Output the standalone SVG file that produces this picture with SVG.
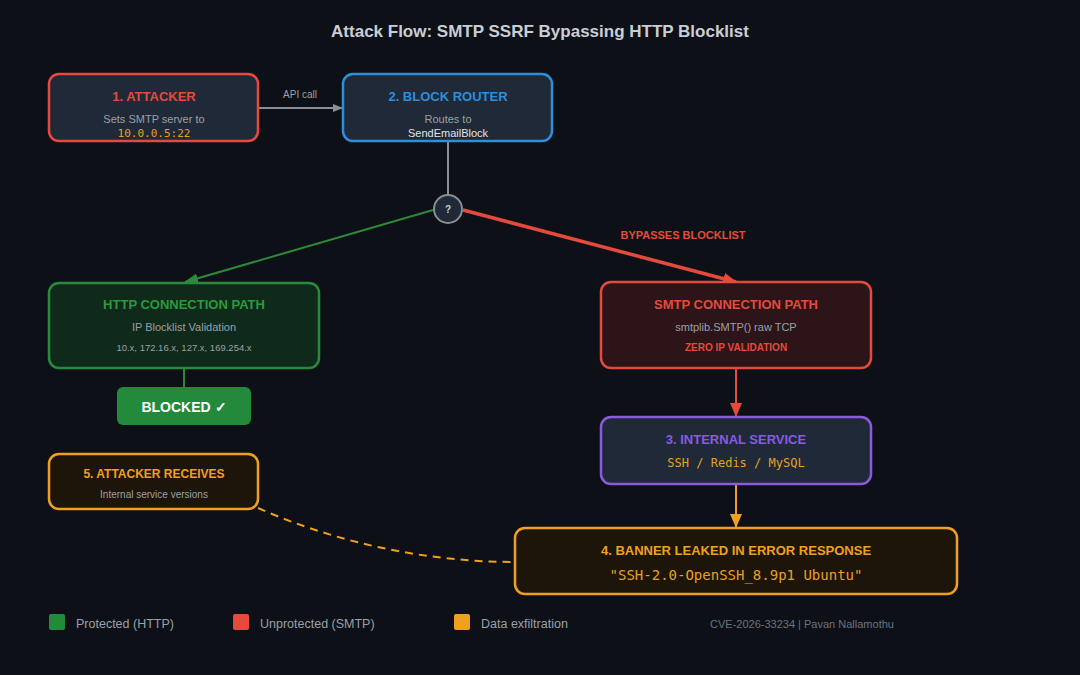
<svg xmlns="http://www.w3.org/2000/svg" width="1080" height="675" viewBox="0 0 1080 675">
<style>
.b{font-family:"Liberation Sans",Arial,sans-serif;font-weight:bold;text-anchor:middle}
.t{font-family:"Liberation Sans",Arial,sans-serif;text-anchor:middle;fill:#9aa0a8}
.m{font-family:"DejaVu Sans Mono",monospace;text-anchor:middle;fill:#e8a020}
.box{stroke-width:2.5}
</style>
<defs>
<marker id="ag" markerWidth="10" markerHeight="8" refX="9" refY="4" orient="auto" markerUnits="userSpaceOnUse"><path d="M0,0L10,4L0,8z" fill="#8a8f96"/></marker>
<marker id="agr" markerWidth="14" markerHeight="10" refX="13" refY="5" orient="auto" markerUnits="userSpaceOnUse"><path d="M0,0L14,5L0,10z" fill="#2a8a3a"/></marker>
<marker id="ar" markerWidth="14" markerHeight="12" refX="13" refY="6" orient="auto" markerUnits="userSpaceOnUse"><path d="M0,0L14,6L0,12z" fill="#e64a3c"/></marker>
<marker id="ao" markerWidth="14" markerHeight="12" refX="13" refY="6" orient="auto" markerUnits="userSpaceOnUse"><path d="M0,0L14,6L0,12z" fill="#f0a020"/></marker>
</defs>
<rect width="1080" height="675" fill="#0d1117"/>
<text x="540" y="37" class="b" font-size="17" fill="#c9ced6">Attack Flow: SMTP SSRF Bypassing HTTP Blocklist</text>
<g id="connectors" fill="none">
<line x1="258" y1="108" x2="342" y2="108" stroke="#8a8f96" stroke-width="2" marker-end="url(#ag)"/>
<text x="300" y="98" class="t" font-size="10" stroke="none">API call</text>
<line x1="448" y1="141" x2="448" y2="195" stroke="#8a8f96" stroke-width="2"/>
<line x1="433" y1="210" x2="185" y2="282" stroke="#2a8a3a" stroke-width="2" marker-end="url(#agr)"/>
<line x1="463" y1="210" x2="736" y2="282" stroke="#e64a3c" stroke-width="3.5" marker-end="url(#ar)"/>
<text x="683" y="239" class="b" font-size="11" fill="#e64a3c" stroke="none">BYPASSES BLOCKLIST</text>
<line x1="184" y1="368" x2="184" y2="387" stroke="#2a8a3a" stroke-width="2"/>
<line x1="736" y1="368" x2="736" y2="416" stroke="#e64a3c" stroke-width="2" marker-end="url(#ar)"/>
<line x1="736" y1="484" x2="736" y2="527" stroke="#f0a020" stroke-width="2" marker-end="url(#ao)"/>
<path d="M258,508 C330,540 420,562 515,562" stroke="#f0a020" stroke-width="2" stroke-dasharray="8,6"/>
</g>
<g id="n1"><rect x="49" y="74" width="209" height="67" rx="10" fill="#1f2937" stroke="#e64a3c" class="box"/>
<text x="154" y="101" class="b" font-size="13" fill="#e64a3c">1. ATTACKER</text>
<text x="154" y="123" class="t" font-size="11">Sets SMTP server to</text>
<text x="154" y="137" class="m" font-size="11">10.0.0.5:22</text></g>
<g id="n2"><rect x="343" y="74" width="209" height="67" rx="10" fill="#1f2937" stroke="#2e8fd8" class="box"/>
<text x="448" y="101" class="b" font-size="13" fill="#2e8fd8">2. BLOCK ROUTER</text>
<text x="448" y="123" class="t" font-size="11">Routes to</text>
<text x="448" y="137" class="t" font-size="11" fill="#e0e4ea" style="fill:#e0e4ea">SendEmailBlock</text></g>
<g id="q"><circle cx="448" cy="209" r="14" fill="#1f2937" stroke="#8a8f96" stroke-width="2"/>
<text x="448" y="213" class="b" font-size="10" fill="#c9ced6">?</text></g>
<g id="http"><rect x="49" y="283" width="270" height="85" rx="10" fill="#0f2a1a" stroke="#2a8a3a" class="box"/>
<text x="184" y="309" class="b" font-size="13" fill="#2a9a40">HTTP CONNECTION PATH</text>
<text x="184" y="331" class="t" font-size="11">IP Blocklist Validation</text>
<text x="184" y="351" class="t" font-size="9.5">10.x, 172.16.x, 127.x, 169.254.x</text></g>
<g id="blocked"><rect x="117" y="387" width="134" height="38" rx="6" fill="#228a3a"/>
<text x="184" y="412" class="b" font-size="14" fill="#ffffff">BLOCKED ✓</text></g>
<g id="smtp"><rect x="601" y="282" width="270" height="86" rx="10" fill="#2c1418" stroke="#e64a3c" class="box"/>
<text x="736" y="309" class="b" font-size="13" fill="#e64a3c">SMTP CONNECTION PATH</text>
<text x="736" y="331" class="t" font-size="11">smtplib.SMTP() raw TCP</text>
<text x="736" y="351" class="b" font-size="10" fill="#e64a3c">ZERO IP VALIDATION</text></g>
<g id="n3"><rect x="601" y="417" width="270" height="67" rx="10" fill="#1f2937" stroke="#8a5ae0" class="box"/>
<text x="736" y="444" class="b" font-size="13" fill="#8a5ae0">3. INTERNAL SERVICE</text>
<text x="736" y="467" class="m" font-size="12">SSH / Redis / MySQL</text></g>
<g id="n4"><rect x="515" y="528" width="442" height="66" rx="10" fill="#1e150a" stroke="#f0a020" class="box"/>
<text x="736" y="555" class="b" font-size="13" fill="#f0a020">4. BANNER LEAKED IN ERROR RESPONSE</text>
<text x="736" y="580" class="m" font-size="14">"SSH-2.0-OpenSSH_8.9p1 Ubuntu"</text></g>
<g id="n5"><rect x="49" y="454" width="209" height="55" rx="10" fill="#1e150a" stroke="#f0a020" class="box"/>
<text x="154" y="478" class="b" font-size="12" fill="#f0a020">5. ATTACKER RECEIVES</text>
<text x="154" y="498" class="t" font-size="10">Internal service versions</text></g>
<g id="legend">
<rect x="49" y="614" width="16" height="16" rx="2" fill="#228a3a"/>
<text x="76" y="628" class="t" font-size="12.5" style="text-anchor:start">Protected (HTTP)</text>
<rect x="233" y="614" width="16" height="16" rx="2" fill="#e64a3c"/>
<text x="260" y="628" class="t" font-size="12.5" style="text-anchor:start">Unprotected (SMTP)</text>
<rect x="454" y="614" width="16" height="16" rx="2" fill="#f0a020"/>
<text x="481" y="628" class="t" font-size="12.5" style="text-anchor:start">Data exfiltration</text>
<text x="802" y="628" class="t" font-size="11" fill="#6b7280" style="fill:#6b7280">CVE-2026-33234 | Pavan Nallamothu</text>
</g>
</svg>
